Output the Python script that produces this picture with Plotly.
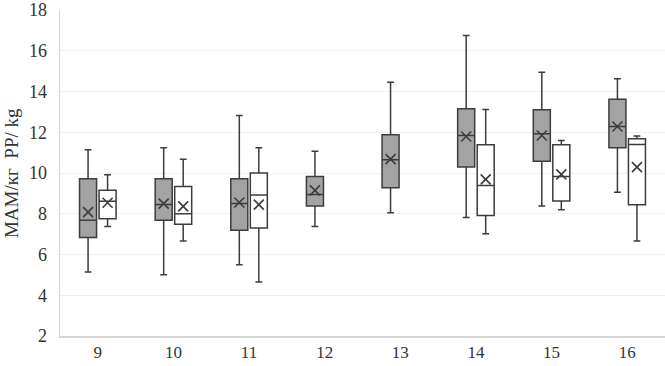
import plotly.graph_objects as go

categories = ["9", "10", "11", "12", "13", "14", "15", "16"]

# Gray series (MAM/кг)
gray_low = [5.14, 5.01, 5.50, 7.38, 8.05, 7.81, 8.38, 9.05]
gray_q1 = [6.83, 7.68, 7.19, 8.38, 9.28, 10.29, 10.58, 11.24]
gray_med = [7.68, 8.45, 8.50, 8.95, 10.65, 11.84, 11.93, 12.28]
gray_q3 = [9.72, 9.72, 9.72, 9.83, 11.88, 13.15, 13.10, 13.62]
gray_high = [11.14, 11.24, 12.82, 11.07, 14.46, 16.75, 14.95, 14.62]
gray_mean = [8.08, 8.50, 8.55, 9.15, 10.68, 11.79, 11.84, 12.28]

# White series (PP/kg); None where there is no box
white_low = [7.38, 6.66, 4.65, None, None, 7.02, 8.20, 6.66]
white_q1 = [7.76, 7.48, 7.30, None, None, 7.92, 8.62, 8.44]
white_med = [8.61, 8.00, 8.92, None, None, 9.39, 9.83, 11.40]
white_q3 = [9.15, 9.34, 10.00, None, None, 11.39, 11.39, 11.68]
white_high = [9.92, 10.67, 11.24, None, None, 13.12, 11.60, 11.81]
white_mean = [8.54, 8.36, 8.45, None, None, 9.69, 9.93, 10.29]

y_ticks = [2, 4, 6, 8, 10, 12, 14, 16, 18]
y_title = "MAM/кг  PP/ kg"

OFFSET = 0.129
BOX_W = 0.225
EDGE = "#3c3c3c"
FONT = "Liberation Serif, Times New Roman, serif"
TXT = "#333333"

fig = go.Figure()

idx = list(range(len(categories)))
gx = [i - OFFSET for i in idx]
fig.add_trace(go.Box(
    x=gx, q1=gray_q1, median=gray_med, q3=gray_q3,
    lowerfence=gray_low, upperfence=gray_high,
    width=BOX_W, whiskerwidth=0.4, boxpoints=False,
    fillcolor="#a3a3a3", line=dict(color=EDGE, width=1.5),
    showlegend=False, hoverinfo="skip"))

wi = [i for i in idx if white_med[i] is not None]
fig.add_trace(go.Box(
    x=[i + OFFSET for i in wi],
    q1=[white_q1[i] for i in wi], median=[white_med[i] for i in wi],
    q3=[white_q3[i] for i in wi],
    lowerfence=[white_low[i] for i in wi], upperfence=[white_high[i] for i in wi],
    width=BOX_W, whiskerwidth=0.4, boxpoints=False,
    fillcolor="#ffffff", line=dict(color=EDGE, width=1.5),
    showlegend=False, hoverinfo="skip"))

fig.add_trace(go.Scatter(
    x=gx, y=gray_mean, mode="markers",
    marker=dict(symbol="x-thin-open", size=10, color=EDGE, line=dict(color=EDGE, width=1.6)),
    showlegend=False, hoverinfo="skip"))
fig.add_trace(go.Scatter(
    x=[i + OFFSET for i in wi], y=[white_mean[i] for i in wi], mode="markers",
    marker=dict(symbol="x-thin-open", size=10, color=EDGE, line=dict(color=EDGE, width=1.6)),
    showlegend=False, hoverinfo="skip"))

L = 60
PW = 665 - L
fig.update_layout(
    width=665, height=366,
    margin=dict(l=L, r=0, t=10, b=30),
    paper_bgcolor="white", plot_bgcolor="white",
    boxmode="overlay",
    font=dict(family=FONT, size=17, color=TXT),
    xaxis=dict(
        range=[-0.5, 7.5], tickmode="array", tickvals=idx, ticktext=categories,
        showgrid=False, zeroline=False, showline=True, linecolor="#d4d4d4",
        linewidth=1.5, ticks="", automargin=False,
        tickfont=dict(family=FONT, size=17, color=TXT),
    ),
    yaxis=dict(
        range=[2, 18], tickmode="array", tickvals=y_ticks,
        showgrid=True, gridcolor="#f0f0f0", gridwidth=1, zeroline=False,
        showline=True, linecolor="#d4d4d4", linewidth=1.5, ticks="",
        ticklabelstandoff=8, automargin=False, ticklabeloverflow="allow",
        tickfont=dict(family=FONT, size=18, color=TXT),
    ),
    annotations=[dict(
        text=y_title, textangle=-90, xref="paper", yref="paper",
        x=-(L - 11) / PW, y=0.5, xanchor="center", yanchor="middle",
        showarrow=False, font=dict(family=FONT, size=19, color=TXT),
    )],
)

fig.write_html(
    "out.html",
    config={"displayModeBar": False, "staticPlot": True},
    post_script="document.body.style.margin='0';document.body.style.overflow='hidden';",
)
